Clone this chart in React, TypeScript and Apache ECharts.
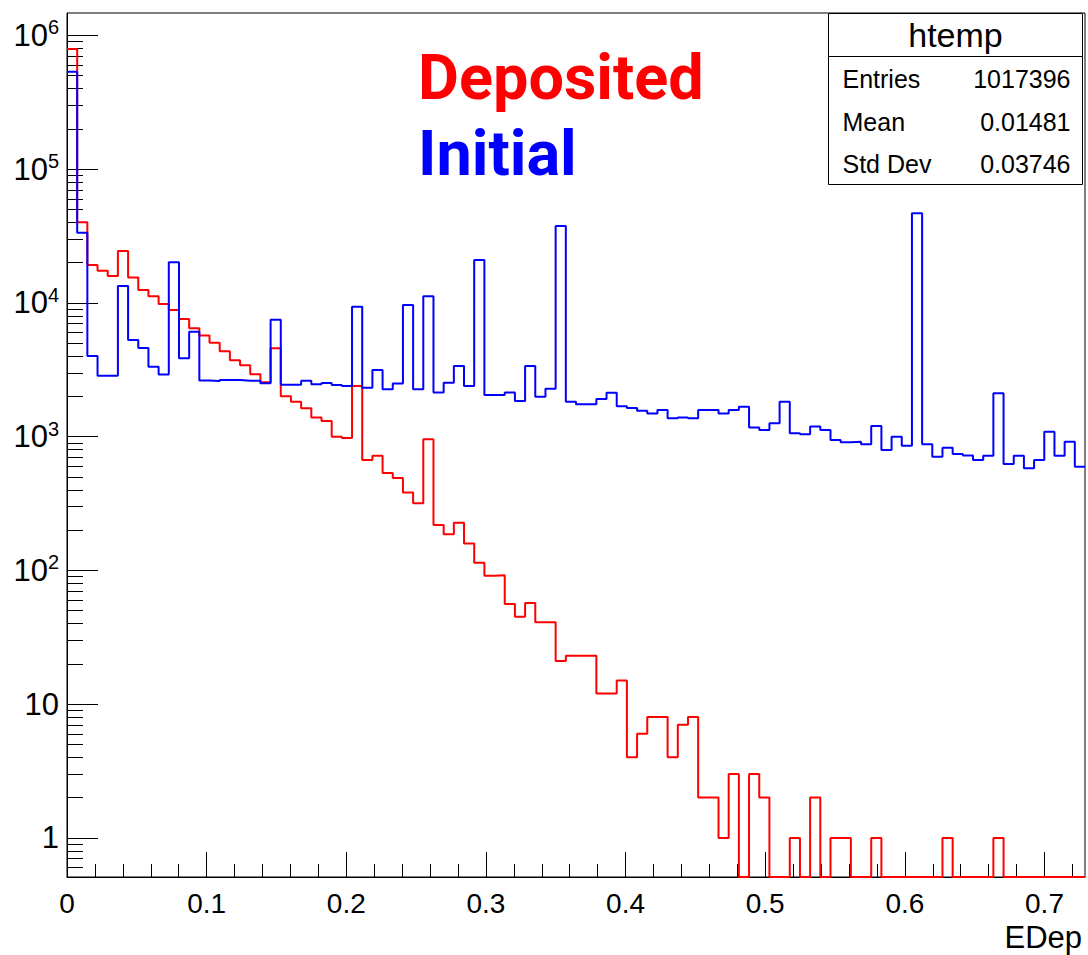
import React, { useEffect, useRef } from "react";
import * as echarts from "echarts";

// Histogram binning of EDep
const BIN_COUNT = 100;
const X_MAX = 0.729;
const Y_MIN = 0.51;
const Y_MAX = 1.47e6;

// Deposited energy spectrum (red), counts per bin
const depositedCounts = [
  790000, 40000, 19200, 17400, 15900, 24400, 15500, 12500, 11200, 9800,
  8830, 7570, 6450, 5700, 5030, 4340, 3720, 3420, 2930, 2550,
  4580, 2000, 1820, 1630, 1390, 1310, 998, 977, 2390, 668,
  720, 535, 490, 383, 317, 955, 218, 186, 227, 159,
  114, 91, 92, 56, 45, 57, 41, 41, 21, 23,
  23, 23, 12, 12, 15, 4, 6, 8, 8, 4,
  7, 8, 2, 2, 1, 3, 0, 3, 2, 0,
  0, 1, 0, 2, 0, 1, 1, 0, 0, 1,
  0, 0, 0, 0, 0, 0, 1, 0, 0, 0,
  0, 1, 0, 0, 0, 0, 0, 0, 0, 0,
];

// Initial energy spectrum (blue), counts per bin
const initialCounts = [
  534000, 33500, 4000, 2850, 2850, 13400, 5270, 4600, 3330, 2920,
  20100, 3850, 6090, 2630, 2610, 2650, 2650, 2620, 2620, 2510,
  7480, 2440, 2440, 2620, 2460, 2520, 2430, 2390, 9350, 2320,
  3150, 2260, 2500, 9630, 2260, 11200, 2140, 2530, 3370, 2390,
  20900, 2050, 2050, 2140, 1850, 3370, 1990, 2280, 37500, 1820,
  1750, 1750, 1910, 2130, 1690, 1640, 1560, 1490, 1580, 1370,
  1390, 1370, 1580, 1580, 1490, 1580, 1670, 1170, 1120, 1260,
  1820, 1060, 1040, 1190, 1120, 944, 907, 915, 876, 1200,
  794, 998, 855, 46700, 876, 708, 826, 741, 724, 668,
  720, 2110, 624, 720, 580, 668, 1090, 720, 915, 596,
];

// Axis ticks
const xMajorTicks = [0, 0.1, 0.2, 0.3, 0.4, 0.5, 0.6, 0.7];
const xMinorStep = 0.02;
const yMajorTicks = [1, 10, 100, 1000, 10000, 100000, 1000000];
const yMinorMantissas = [2, 3, 4, 5, 6, 7, 8, 9];
const yDecades = [0.1, 1, 10, 100, 1000, 10000, 100000, 1000000];

// Statistics box
const statsTitle = "htemp";
const statsLabels = ["Entries", "Mean", "Std Dev"];
const statsValues = ["1017396", "0.01481", "0.03746"];

// Overlay captions
const depositedLabel = "Deposited";
const initialLabel = "Initial";
const xAxisTitle = "EDep";

const DEPOSITED_COLOR = "#ff0000";
const INITIAL_COLOR = "#0000ff";
const AXIS_FONT = "'Liberation Sans', Arial, Helvetica, sans-serif";

const xMinorTicks: number[] = [];
for (let i = 1; i * xMinorStep <= X_MAX + 1e-9; i++) {
  xMinorTicks.push(Number((i * xMinorStep).toFixed(2)));
}

const yMinorTicks: number[] = [];
yDecades.forEach((d) => {
  yMinorMantissas.forEach((m) => {
    const v = Number((m * d).toPrecision(3));
    if (v > Y_MIN && v < Y_MAX) yMinorTicks.push(v);
  });
});

// Histogram outline: one point at each bin's low edge, plus the final high edge.
// Empty bins sit on the lower edge of the frame, as on a log-scaled pad.
function histogramOutline(counts: number[]): number[][] {
  const binWidth = X_MAX / BIN_COUNT;
  const pts = counts.map((c, i) => [i * binWidth, c > 0 ? c : Y_MIN]);
  const last = counts[counts.length - 1];
  pts.push([BIN_COUNT * binWidth, last > 0 ? last : Y_MIN]);
  return pts;
}

function yLabel(v: number): string {
  if (v < 100) return `{n|${v}}`;
  const exp = Math.round(Math.log10(v));
  return `{n|10}{e|${exp}}`;
}

const STATS_BOX = { x: 828.5, y: 13.5, w: 254, h: 171 };
const STATS_HEADER_H = 43;

export default function App() {
  const ref = useRef<HTMLDivElement>(null);

  useEffect(() => {
    document.body.style.margin = "0";
    if (!ref.current) return;
    const chart = echarts.init(ref.current, null, { renderer: "svg" });

    const rowH = (STATS_BOX.h - STATS_HEADER_H) / statsLabels.length;
    const statsGraphics: any[] = [
      {
        type: "rect",
        shape: { x: STATS_BOX.x, y: STATS_BOX.y, width: STATS_BOX.w, height: STATS_BOX.h },
        style: { fill: "#ffffff", stroke: "#000000", lineWidth: 1 },
        z: 10,
      },
      {
        type: "line",
        shape: {
          x1: STATS_BOX.x,
          y1: STATS_BOX.y + STATS_HEADER_H,
          x2: STATS_BOX.x + STATS_BOX.w,
          y2: STATS_BOX.y + STATS_HEADER_H,
        },
        style: { stroke: "#000000", lineWidth: 1 },
        z: 11,
      },
      {
        type: "text",
        x: STATS_BOX.x + STATS_BOX.w / 2,
        y: STATS_BOX.y + STATS_HEADER_H / 2,
        style: {
          text: statsTitle,
          font: `34px ${AXIS_FONT}`,
          fill: "#000000",
          align: "center",
          verticalAlign: "middle",
        },
        z: 11,
      },
    ];
    statsLabels.forEach((label, i) => {
      const cy = STATS_BOX.y + STATS_HEADER_H + rowH * (i + 0.5) + 1;
      statsGraphics.push({
        type: "text",
        x: STATS_BOX.x + 14,
        y: cy,
        style: { text: label, font: `25px ${AXIS_FONT}`, fill: "#000000", align: "left", verticalAlign: "middle" },
        z: 11,
      });
      statsGraphics.push({
        type: "text",
        x: STATS_BOX.x + STATS_BOX.w - 12,
        y: cy,
        style: { text: statsValues[i], font: `25px ${AXIS_FONT}`, fill: "#000000", align: "right", verticalAlign: "middle" },
        z: 11,
      });
    });

    const option: any = {
      animation: false,
      backgroundColor: "#ffffff",
      grid: {
        left: 67,
        right: 3,
        top: 13,
        bottom: 78,
        show: true,
        borderColor: "#000000",
        borderWidth: 1,
        backgroundColor: "transparent",
      },
      xAxis: [
        {
          type: "value",
          min: 0,
          max: X_MAX,
          position: "bottom",
          axisLine: { show: true, onZero: false, lineStyle: { color: "#000000", width: 1 } },
          axisTick: { show: true, inside: true, length: 25, customValues: xMajorTicks, lineStyle: { color: "#000000" } },
          axisLabel: {
            customValues: xMajorTicks,
            fontSize: 28,
            fontFamily: AXIS_FONT,
            color: "#000000",
            margin: 12,
            formatter: (v: number) => String(v),
          },
          splitLine: { show: false },
        },
        {
          type: "value",
          min: 0,
          max: X_MAX,
          position: "bottom",
          axisLine: { show: false },
          axisTick: { show: true, inside: true, length: 13, customValues: xMinorTicks, lineStyle: { color: "#000000" } },
          axisLabel: { show: false },
          splitLine: { show: false },
        },
      ],
      yAxis: [
        {
          type: "log",
          logBase: 10,
          min: Y_MIN,
          max: Y_MAX,
          position: "left",
          axisLine: { show: true, onZero: false, lineStyle: { color: "#000000", width: 1 } },
          axisTick: { show: true, inside: true, length: 31, customValues: yMajorTicks, lineStyle: { color: "#000000" } },
          axisLabel: {
            customValues: yMajorTicks,
            margin: 8,
            color: "#000000",
            formatter: yLabel,
            rich: {
              n: { fontSize: 31, fontFamily: AXIS_FONT, color: "#000000", lineHeight: 36 },
              e: { fontSize: 20, fontFamily: AXIS_FONT, color: "#000000", lineHeight: 20, verticalAlign: "top" },
            },
          },
          splitLine: { show: false },
        },
        {
          type: "log",
          logBase: 10,
          min: Y_MIN,
          max: Y_MAX,
          position: "left",
          axisLine: { show: false },
          axisTick: { show: true, inside: true, length: 16, customValues: yMinorTicks, lineStyle: { color: "#000000" } },
          axisLabel: { show: false },
          splitLine: { show: false },
        },
      ],
      series: [
        {
          name: depositedLabel,
          type: "line",
          xAxisIndex: 0,
          yAxisIndex: 0,
          step: "end",
          symbol: "none",
          silent: true,
          clip: true,
          data: histogramOutline(depositedCounts),
          lineStyle: { color: DEPOSITED_COLOR, width: 2 },
          itemStyle: { color: DEPOSITED_COLOR },
        },
        {
          name: initialLabel,
          type: "line",
          xAxisIndex: 0,
          yAxisIndex: 0,
          step: "end",
          symbol: "none",
          silent: true,
          clip: true,
          data: histogramOutline(initialCounts),
          lineStyle: { color: INITIAL_COLOR, width: 2 },
          itemStyle: { color: INITIAL_COLOR },
        },
      ],
      graphic: [
        {
          type: "text",
          x: 418,
          y: 77,
          style: {
            text: depositedLabel,
            font: "bold 63px Roboto, 'Noto Sans', sans-serif",
            fill: DEPOSITED_COLOR,
            align: "left",
            verticalAlign: "middle",
          },
          z: 12,
        },
        {
          type: "text",
          x: 418,
          y: 153,
          style: {
            text: initialLabel,
            font: "bold 63px Roboto, 'Noto Sans', sans-serif",
            fill: INITIAL_COLOR,
            align: "left",
            verticalAlign: "middle",
          },
          z: 12,
        },
        {
          type: "text",
          x: 1082,
          y: 937,
          style: {
            text: xAxisTitle,
            font: `31px ${AXIS_FONT}`,
            fill: "#000000",
            align: "right",
            verticalAlign: "middle",
          },
          z: 12,
        },
        ...statsGraphics,
      ],
    };

    chart.setOption(option);
    return () => chart.dispose();
  }, []);

  return <div ref={ref} style={{ width: 1088, height: 955 }} />;
}
